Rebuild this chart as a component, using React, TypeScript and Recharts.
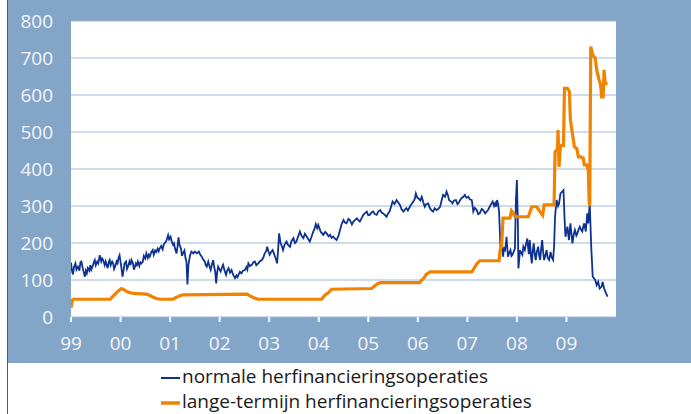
import React from 'react';
import { LineChart, Line, XAxis, YAxis, CartesianGrid } from 'recharts';

const normaleYears = [
  1999.00, 1999.02, 1999.04, 1999.06, 1999.09, 1999.11, 1999.14, 1999.17, 1999.19, 1999.21,
  1999.24, 1999.26, 1999.28, 1999.30, 1999.32, 1999.34, 1999.37, 1999.39, 1999.41, 1999.44,
  1999.46, 1999.48, 1999.50, 1999.53, 1999.55, 1999.57, 1999.58, 1999.61, 1999.63, 1999.65,
  1999.68, 1999.70, 1999.71, 1999.74, 1999.76, 1999.78, 1999.80, 1999.83, 1999.85, 1999.87,
  1999.90, 1999.92, 1999.94, 1999.96, 1999.98, 2000.01, 2000.04, 2000.06, 2000.08, 2000.11,
  2000.13, 2000.15, 2000.18, 2000.20, 2000.22, 2000.25, 2000.27, 2000.29, 2000.31, 2000.33,
  2000.35, 2000.38, 2000.40, 2000.42, 2000.45, 2000.47, 2000.50, 2000.52, 2000.55, 2000.57,
  2000.59, 2000.62, 2000.65, 2000.67, 2000.70, 2000.72, 2000.75, 2000.77, 2000.79, 2000.82,
  2000.85, 2000.87, 2000.89, 2000.92, 2000.94, 2000.96, 2000.98, 2001.01, 2001.03, 2001.06,
  2001.08, 2001.10, 2001.13, 2001.15, 2001.17, 2001.19, 2001.22, 2001.24, 2001.26, 2001.29,
  2001.31, 2001.33, 2001.35, 2001.37, 2001.40, 2001.43, 2001.47, 2001.50, 2001.54, 2001.58,
  2001.61, 2001.64, 2001.67, 2001.70, 2001.72, 2001.74, 2001.77, 2001.80, 2001.82, 2001.85,
  2001.87, 2001.89, 2001.91, 2001.93, 2001.95, 2001.97, 2002.00, 2002.02, 2002.05, 2002.07,
  2002.10, 2002.13, 2002.15, 2002.18, 2002.21, 2002.24, 2002.27, 2002.29, 2002.31, 2002.34,
  2002.36, 2002.38, 2002.41, 2002.44, 2002.47, 2002.51, 2002.54, 2002.56, 2002.58, 2002.61,
  2002.65, 2002.68, 2002.71, 2002.74, 2002.78, 2002.81, 2002.85, 2002.88, 2002.91, 2002.94,
  2002.96, 2002.99, 2003.01, 2003.04, 2003.07, 2003.10, 2003.12, 2003.14, 2003.16, 2003.18,
  2003.20, 2003.23, 2003.26, 2003.28, 2003.31, 2003.35, 2003.38, 2003.42, 2003.45, 2003.49,
  2003.52, 2003.55, 2003.59, 2003.62, 2003.65, 2003.69, 2003.72, 2003.76, 2003.79, 2003.82,
  2003.85, 2003.89, 2003.92, 2003.94, 2003.97, 2003.99, 2004.02, 2004.04, 2004.07, 2004.09,
  2004.13, 2004.16, 2004.20, 2004.23, 2004.26, 2004.29, 2004.33, 2004.36, 2004.40, 2004.43,
  2004.46, 2004.50, 2004.53, 2004.56, 2004.60, 2004.63, 2004.67, 2004.70, 2004.73, 2004.77,
  2004.80, 2004.83, 2004.87, 2004.90, 2004.93, 2004.97, 2005.00, 2005.03, 2005.07, 2005.10,
  2005.13, 2005.17, 2005.20, 2005.24, 2005.27, 2005.30, 2005.34, 2005.37, 2005.40, 2005.43,
  2005.46, 2005.49, 2005.53, 2005.57, 2005.60, 2005.64, 2005.67, 2005.71, 2005.74, 2005.77,
  2005.80, 2005.84, 2005.87, 2005.91, 2005.94, 2005.96, 2005.99, 2006.01, 2006.05, 2006.08,
  2006.11, 2006.14, 2006.17, 2006.21, 2006.24, 2006.27, 2006.31, 2006.34, 2006.38, 2006.41,
  2006.45, 2006.48, 2006.51, 2006.55, 2006.58, 2006.61, 2006.63, 2006.67, 2006.70, 2006.73,
  2006.77, 2006.80, 2006.82, 2006.85, 2006.88, 2006.92, 2006.95, 2006.98, 2007.02, 2007.05,
  2007.09, 2007.12, 2007.15, 2007.19, 2007.22, 2007.25, 2007.29, 2007.32, 2007.36, 2007.39,
  2007.42, 2007.45, 2007.48, 2007.51, 2007.54, 2007.56, 2007.58, 2007.60, 2007.62, 2007.64,
  2007.67, 2007.69, 2007.71, 2007.72, 2007.74, 2007.76, 2007.78, 2007.79, 2007.81, 2007.82,
  2007.85, 2007.87, 2007.89, 2007.91, 2007.94, 2007.96, 2007.98, 2008.00, 2008.02, 2008.03,
  2008.05, 2008.06, 2008.08, 2008.11, 2008.13, 2008.16, 2008.18, 2008.21, 2008.24, 2008.26,
  2008.28, 2008.30, 2008.32, 2008.34, 2008.36, 2008.38, 2008.40, 2008.43, 2008.45, 2008.47,
  2008.49, 2008.51, 2008.53, 2008.55, 2008.58, 2008.60, 2008.62, 2008.65, 2008.68, 2008.70,
  2008.73, 2008.75, 2008.77, 2008.80, 2008.83, 2008.85, 2008.88, 2008.91, 2008.94, 2008.96,
  2008.98, 2009.00, 2009.02, 2009.05, 2009.08, 2009.10, 2009.12, 2009.15, 2009.17, 2009.20,
  2009.22, 2009.25, 2009.27, 2009.30, 2009.32, 2009.34, 2009.36, 2009.39, 2009.42, 2009.44,
  2009.47, 2009.50, 2009.53, 2009.56, 2009.58, 2009.61, 2009.64, 2009.67, 2009.71, 2009.73,
  2009.76, 2009.80, 2009.83,
];

const normaleValues = [
  147, 125, 115, 135, 145, 128, 136, 125, 148, 150,
  130, 120, 109, 125, 118, 132, 125, 140, 128, 138,
  148, 154, 140, 150, 145, 160, 167, 150, 158, 154,
  140, 150, 145, 132, 148, 154, 140, 150, 145, 130,
  140, 150, 145, 160, 167, 140, 109, 125, 145, 150,
  130, 136, 150, 140, 154, 145, 128, 136, 145, 140,
  150, 138, 148, 145, 150, 165, 158, 172, 160, 168,
  163, 175, 181, 168, 180, 176, 185, 178, 185, 192,
  183, 195, 199, 205, 212, 221, 210, 217, 205, 195,
  199, 185, 172, 190, 215, 195, 185, 165, 172, 180,
  160, 150, 88, 140, 165, 177, 172, 177, 172, 177,
  168, 163, 155, 150, 140, 136, 150, 135, 127, 145,
  154, 135, 123, 91, 120, 136, 128, 123, 135, 141,
  125, 114, 125, 132, 120, 127, 115, 110, 105, 112,
  108, 114, 122, 118, 125, 127, 135, 128, 145, 138,
  141, 148, 150, 140, 145, 150, 154, 160, 172, 178,
  190, 175, 168, 176, 181, 170, 163, 155, 145, 180,
  226, 199, 190, 181, 195, 204, 195, 190, 205, 213,
  200, 204, 220, 231, 220, 213, 225, 217, 210, 204,
  215, 231, 240, 251, 240, 249, 238, 230, 226, 222,
  230, 226, 218, 222, 214, 217, 212, 208, 220, 235,
  250, 262, 255, 253, 265, 262, 250, 258, 262, 267,
  262, 258, 268, 276, 280, 285, 275, 276, 283, 285,
  278, 276, 285, 289, 282, 280, 275, 271, 280, 285,
  298, 312, 305, 316, 310, 303, 292, 285, 290, 294,
  288, 298, 305, 312, 320, 334, 322, 321, 315, 325,
  310, 298, 305, 307, 295, 289, 285, 294, 289, 292,
  298, 315, 330, 325, 339, 328, 316, 312, 307, 315,
  316, 305, 307, 315, 321, 325, 330, 322, 325, 318,
  316, 285, 295, 289, 278, 280, 292, 289, 280, 285,
  290, 298, 305, 312, 300, 307, 298, 316, 305, 285,
  181, 203, 175, 163, 185, 181, 200, 217, 180, 163,
  175, 181, 165, 168, 178, 185, 316, 370, 250, 131,
  160, 181, 175, 168, 190, 181, 195, 212, 170, 208,
  170, 145, 180, 199, 170, 154, 175, 190, 165, 154,
  185, 208, 175, 154, 170, 181, 160, 154, 176, 162,
  154, 190, 271, 316, 300, 307, 334, 338, 343, 271,
  217, 230, 244, 208, 253, 225, 199, 225, 235, 220,
  226, 238, 244, 235, 231, 245, 253, 231, 280, 253,
  307, 190, 109, 104, 100, 86, 95, 77, 82, 95,
  77, 64, 55,
];

const langeYears = [
  1999.00, 1999.03, 1999.05, 1999.79, 1999.84, 1999.89, 1999.95, 2000.02, 2000.07, 2000.11,
  2000.18, 2000.25, 2000.53, 2000.59, 2000.65, 2000.72, 2000.80, 2001.06, 2001.11, 2001.16,
  2001.21, 2001.26, 2002.55, 2002.58, 2002.61, 2002.69, 2002.77, 2004.06, 2004.10, 2004.15,
  2004.20, 2004.26, 2005.07, 2005.14, 2005.19, 2005.24, 2006.04, 2006.08, 2006.12, 2006.17,
  2006.25, 2007.09, 2007.15, 2007.20, 2007.25, 2007.64, 2007.66, 2007.69, 2007.72, 2007.86,
  2007.89, 2007.93, 2007.96, 2008.23, 2008.30, 2008.40, 2008.47, 2008.52, 2008.55, 2008.75,
  2008.77, 2008.80, 2008.82, 2008.83, 2008.85, 2008.88, 2008.94, 2008.96, 2009.02, 2009.06,
  2009.08, 2009.13, 2009.16, 2009.21, 2009.24, 2009.29, 2009.34, 2009.36, 2009.41, 2009.44,
  2009.46, 2009.47, 2009.49, 2009.53, 2009.58, 2009.61, 2009.66, 2009.69, 2009.71, 2009.74,
  2009.76, 2009.78, 2009.83,
];

const langeValues = [
  25, 46, 48, 48, 55, 62, 70, 77, 74, 70,
  66, 64, 62, 58, 54, 50, 48, 48, 52, 55,
  58, 60, 62, 60, 57, 52, 48, 48, 55, 62,
  66, 75, 77, 85, 90, 93, 93, 100, 105, 115,
  122, 122, 135, 145, 152, 152, 181, 190, 267, 267,
  287, 280, 271, 271, 298, 298, 284, 275, 303, 303,
  447, 451, 455, 505, 406, 464, 464, 618, 618, 609,
  532, 487, 460, 455, 433, 433, 429, 411, 411, 397,
  307, 300, 731, 708, 700, 668, 640, 627, 595, 595,
  668, 631, 631,
];

const yTicks = [0, 100, 200, 300, 400, 500, 600, 700, 800];
const xTickYears = [1999, 2000, 2001, 2002, 2003, 2004, 2005, 2006, 2007, 2008, 2009];
const xTickLabels = ['99', '00', '01', '02', '03', '04', '05', '06', '07', '08', '09'];
const seriesNames = ['normale herfinancieringsoperaties', 'lange-termijn herfinancieringsoperaties'];

const normaleData = normaleYears.map((x, i) => ({ x, v: normaleValues[i] }));
const langeData = langeYears.map((x, i) => ({ x, v: langeValues[i] }));

const BG = '#83a5c7';
const GRID = '#9db8d9';
const BLUE = '#0d328f';
const ORANGE = '#f08400';
const LABEL = '#f3f6fa';
const FONT = '"Open Sans", "Noto Sans", sans-serif';

const tickStyle = { fill: LABEL, fontSize: 19, fontFamily: FONT };

export default function App() {
  return (
    <div style={{ position: 'absolute', left: 0, top: 0, width: 691, height: 414, background: '#ffffff', overflow: 'hidden' }}>
      <div style={{ position: 'absolute', left: 8, top: 0, width: 683, height: 363, background: BG }} />
      <div style={{ position: 'absolute', left: 7, top: 0, width: 1, height: 414, background: '#3a5f9c' }} />
      <div style={{ position: 'absolute', left: 0, top: 0 }}>
        <LineChart width={691} height={363} margin={{ top: 21, right: 0, bottom: 0, left: 0 }}>
          <CartesianGrid yAxisId="left" vertical={false} stroke={GRID} strokeWidth={1.2} fill="#ffffff" fillOpacity={1} />
          <XAxis
            dataKey="x"
            type="number"
            domain={[1999, 2010]}
            ticks={xTickYears}
            tickFormatter={(v: number) => xTickLabels[xTickYears.indexOf(v)] ?? ''}
            allowDataOverflow
            axisLine={false}
            tickLine={{ stroke: '#ffffff', strokeWidth: 2 }}
            tickSize={5}
            tickMargin={15}
            height={46}
            tick={tickStyle}
          />
          <YAxis
            yAxisId="left"
            orientation="left"
            domain={[0, 800]}
            ticks={yTicks}
            width={71}
            axisLine={false}
            tickLine={false}
            tickSize={0}
            tickMargin={18}
            tick={tickStyle}
          />
          <YAxis
            yAxisId="right"
            orientation="right"
            domain={[0, 800]}
            ticks={yTicks}
            width={75}
            axisLine={false}
            tickLine={false}
            tickSize={0}
            tickMargin={17}
            tick={{ ...tickStyle, textAnchor: 'start' }}
          />
          <Line
            yAxisId="left"
            data={normaleData}
            dataKey="v"
            name={seriesNames[0]}
            type="linear"
            stroke={BLUE}
            strokeWidth={1.8}
            dot={false}
            isAnimationActive={false}
          />
          <Line
            yAxisId="left"
            data={langeData}
            dataKey="v"
            name={seriesNames[1]}
            type="linear"
            stroke={ORANGE}
            strokeWidth={3.2}
            dot={false}
            isAnimationActive={false}
          />
        </LineChart>
      </div>
      <svg width={691} height={414} style={{ position: 'absolute', left: 0, top: 0, pointerEvents: 'none' }}>
        <line x1={161} x2={180} y1={378} y2={378} stroke={BLUE} strokeWidth={2} />
        <text x={182} y={383} fontSize={19} fontFamily={FONT} fill="#1a1a1a">{seriesNames[0]}</text>
        <line x1={161} x2={180} y1={403} y2={403} stroke={ORANGE} strokeWidth={3.5} />
        <text x={182} y={408} fontSize={19} fontFamily={FONT} fill="#1a1a1a">{seriesNames[1]}</text>
      </svg>
    </div>
  );
}
